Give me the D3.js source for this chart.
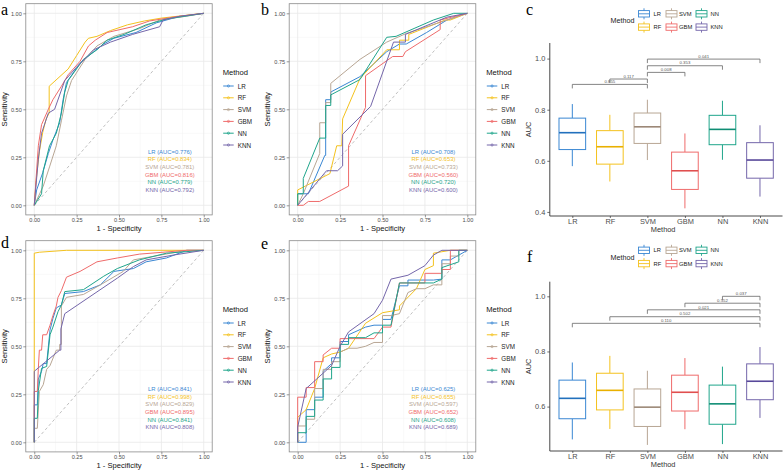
<!DOCTYPE html>
<html><head><meta charset="utf-8">
<script src="https://cdn.jsdelivr.net/npm/d3@7"></script>
<style>
body{margin:0;background:#fff}
svg{display:block}
text{font-family:"Liberation Sans",Arial,Helvetica,sans-serif}
</style>
</head><body>
<svg id="chart" width="783" height="471"></svg>
<script>
// ---------------- DATA ----------------
const methods = ["LR","RF","SVM","GBM","NN","KNN"];
const rocTicks = [0, 0.25, 0.5, 0.75, 1];

// panel a (fpr, tpr)
const aLR  = [[0,0],[0.014,0.08],[0.05,0.17],[0.083,0.27],[0.11,0.34],[0.15,0.43],[0.17,0.55],[0.19,0.64],[0.27,0.74],[0.35,0.8],[0.41,0.84],[0.47,0.87],[0.6,0.9],[0.72,0.95],[0.84,0.98],[1,1]];
const aRF  = [[0,0],[0.01,0.12],[0.03,0.28],[0.05,0.38],[0.07,0.45],[0.088,0.48],[0.088,0.62],[0.2,0.71],[0.25,0.78],[0.3,0.85],[0.32,0.87],[0.37,0.88],[0.45,0.91],[0.55,0.94],[0.65,0.96],[0.75,0.975],[0.85,0.985],[1,1]];
const aSVM = [[0,0],[0.053,0.1],[0.09,0.2],[0.13,0.31],[0.16,0.44],[0.19,0.57],[0.22,0.65],[0.3,0.76],[0.37,0.83],[0.47,0.88],[0.62,0.92],[0.74,0.965],[0.9,0.985],[1,1]];
const aGBM = [[0,0],[0.01,0.13],[0.024,0.31],[0.043,0.42],[0.083,0.5],[0.11,0.55],[0.16,0.62],[0.2,0.68],[0.27,0.75],[0.32,0.83],[0.36,0.86],[0.43,0.9],[0.58,0.93],[0.68,0.96],[0.82,0.98],[1,1]];
const aNN  = [[0,0],[0.043,0.06],[0.053,0.18],[0.09,0.31],[0.13,0.375],[0.16,0.48],[0.18,0.59],[0.2,0.65],[0.29,0.76],[0.37,0.81],[0.43,0.86],[0.53,0.89],[0.66,0.94],[0.78,0.97],[1,1]];
const aKNN = [[0,0],[0.024,0.24],[0.043,0.375],[0.083,0.48],[0.12,0.5],[0.18,0.65],[0.25,0.72],[0.35,0.81],[0.45,0.85],[0.58,0.89],[0.74,0.93],[0.76,0.965],[0.86,0.985],[1,1]];
const aucA = ["0.776","0.834","0.781","0.816","0.779","0.792"];

// panel b
const bLR  = [[0,0],[0,0.06],[0.063,0.06],[0.16,0.26],[0.165,0.26],[0.165,0.55],[0.195,0.55],[0.195,0.59],[0.367,0.67],[0.525,0.8],[0.6,0.84],[0.64,0.84],[0.76,0.9],[0.88,0.965],[1,1]];
const bRF  = [[0,0],[0,0.08],[0.19,0.165],[0.23,0.31],[0.26,0.31],[0.265,0.45],[0.367,0.66],[0.525,0.81],[0.6,0.81],[0.6,0.86],[0.655,0.86],[0.655,0.89],[0.87,0.965],[0.9,0.965],[1,1]];
const bSVM = [[0,0],[0.033,0.06],[0.13,0.27],[0.13,0.43],[0.165,0.43],[0.165,0.535],[0.195,0.535],[0.195,0.635],[0.367,0.76],[0.525,0.85],[0.64,0.895],[1,1]];
const bGBM = [[0,0],[0.033,0],[0.063,0.02],[0.13,0.02],[0.3,0.1],[0.3,0.31],[0.4,0.51],[0.4,0.675],[0.56,0.775],[0.62,0.775],[0.635,0.8],[0.84,0.915],[0.84,0.965],[1,1]];
const bNN  = [[0,0],[0,0.06],[0.033,0.06],[0.033,0.14],[0.13,0.35],[0.165,0.35],[0.165,0.52],[0.195,0.52],[0.195,0.575],[0.367,0.655],[0.525,0.875],[0.58,0.88],[0.8,0.965],[0.92,1],[1,1]];
const bKNN = [[0,0],[0.17,0.18],[0.235,0.18],[0.265,0.205],[0.265,0.37],[0.43,0.515],[0.565,0.85],[0.635,0.85],[0.635,0.89],[0.88,0.98],[1,1]];
const aucB = ["0.708","0.653","0.733","0.560","0.720","0.600"];

// panel d
const dLR  = [[0,0],[0,0.195],[0.018,0.195],[0.024,0.33],[0.043,0.37],[0.053,0.41],[0.073,0.41],[0.093,0.585],[0.11,0.645],[0.13,0.7],[0.16,0.715],[0.18,0.775],[0.29,0.785],[0.39,0.82],[0.47,0.89],[0.585,0.905],[0.66,0.94],[0.78,0.96],[0.9,1],[1,1]];
const dRF  = [[0,0],[0,0.985],[0.03,0.99],[0.19,1],[1,1]];
const dSVM = [[0,0],[0,0.073],[0.018,0.073],[0.03,0.265],[0.053,0.3],[0.073,0.38],[0.093,0.4],[0.13,0.48],[0.15,0.48],[0.15,0.51],[0.16,0.51],[0.16,0.71],[0.19,0.755],[0.29,0.77],[0.39,0.82],[0.525,0.89],[0.585,0.95],[0.9,1],[1,1]];
const dGBM = [[0,0],[0,0.265],[0.018,0.265],[0.024,0.385],[0.03,0.48],[0.043,0.48],[0.05,0.56],[0.073,0.56],[0.093,0.61],[0.11,0.66],[0.13,0.71],[0.14,0.755],[0.16,0.79],[0.19,0.86],[0.27,0.89],[0.37,0.94],[0.49,0.96],[0.62,0.98],[0.9,1],[1,1]];
const dNN  = [[0,0],[0,0.125],[0.018,0.125],[0.024,0.27],[0.043,0.385],[0.073,0.395],[0.093,0.56],[0.11,0.6],[0.14,0.68],[0.16,0.715],[0.18,0.785],[0.29,0.795],[0.41,0.865],[0.49,0.905],[0.62,0.95],[0.78,0.985],[1,1]];
const dKNN = [[0,0],[0,0.37],[0.15,0.48],[0.157,0.48],[0.157,0.59],[0.18,0.67],[0.49,0.855],[0.585,0.915],[0.66,0.95],[0.82,0.975],[1,1]];
const aucD = ["0.841","0.998","0.829","0.895","0.841","0.808"];

// panel e
const eLR  = [[0,0],[0.05,0],[0.05,0.17],[0.1,0.17],[0.1,0.235],[0.15,0.235],[0.15,0.37],[0.2,0.41],[0.2,0.44],[0.25,0.44],[0.25,0.525],[0.3,0.525],[0.3,0.56],[0.4,0.6],[0.45,0.61],[0.5,0.61],[0.5,0.64],[0.55,0.64],[0.6,0.815],[0.65,0.815],[0.65,0.845],[0.8,0.845],[0.85,0.85],[0.85,0.95],[0.9,0.95],[1,1]];
const eRF  = [[0,0],[0,0.13],[0.05,0.17],[0.1,0.28],[0.15,0.44],[0.2,0.46],[0.25,0.47],[0.3,0.49],[0.4,0.62],[0.5,0.675],[0.6,0.69],[0.6,0.71],[0.7,0.8],[0.75,0.9],[0.8,0.92],[0.8,0.985],[0.9,1],[1,1]];
const eSVM = [[0,0],[0,0.085],[0.05,0.085],[0.05,0.12],[0.1,0.12],[0.1,0.28],[0.15,0.28],[0.15,0.38],[0.2,0.38],[0.2,0.42],[0.25,0.42],[0.25,0.47],[0.3,0.49],[0.35,0.49],[0.4,0.5],[0.45,0.52],[0.5,0.52],[0.5,0.66],[0.55,0.66],[0.6,0.67],[0.65,0.78],[0.7,0.8],[0.75,0.8],[0.8,0.82],[0.85,0.82],[0.85,0.93],[0.9,0.93],[0.9,0.97],[0.95,0.97],[0.95,1],[1,1]];
const eGBM = [[0,0],[0,0.235],[0.05,0.235],[0.05,0.285],[0.1,0.285],[0.1,0.42],[0.15,0.42],[0.15,0.455],[0.2,0.49],[0.25,0.49],[0.25,0.54],[0.3,0.54],[0.45,0.54],[0.5,0.6],[0.55,0.6],[0.6,0.83],[0.75,0.83],[0.75,0.88],[0.85,0.88],[0.85,0.9],[0.9,0.9],[0.9,1],[1,1]];
const eNN  = [[0,0],[0,0.05],[0.05,0.05],[0.05,0.135],[0.1,0.135],[0.1,0.22],[0.15,0.22],[0.15,0.33],[0.2,0.33],[0.2,0.39],[0.25,0.39],[0.25,0.51],[0.3,0.51],[0.3,0.545],[0.4,0.545],[0.45,0.57],[0.5,0.57],[0.5,0.61],[0.55,0.61],[0.6,0.83],[0.8,0.83],[0.85,0.85],[0.85,0.91],[0.95,0.94],[0.95,1],[1,1]];
const eKNN = [[0,0],[0,0.08],[0.05,0.28],[0.2,0.4],[0.25,0.5],[0.3,0.575],[0.45,0.67],[0.5,0.74],[0.55,0.85],[0.65,0.87],[0.75,0.92],[0.8,0.975],[0.85,1],[1,1]];
const aucE = ["0.625","0.655","0.597","0.652","0.608","0.689"];

// panel c boxplot stats
const cMin = [0.579, 0.519, 0.603, 0.414, 0.604, 0.460];
const cQ1  = [0.644, 0.587, 0.668, 0.488, 0.663, 0.532];
const cMed = [0.710, 0.655, 0.733, 0.561, 0.723, 0.603];
const cQ3  = [0.767, 0.718, 0.787, 0.634, 0.778, 0.671];
const cMax = [0.822, 0.780, 0.839, 0.707, 0.835, 0.739];
const cPairs = [["LR","SVM"],["RF","SVM"],["SVM","GBM"],["SVM","NN"],["SVM","KNN"]];
const cPval  = ["0.855","0.117","0.008","0.353","0.041"];
const cBrY   = [0.899, 0.920, 0.946, 0.972, 0.998];
const cTicks = [0.4, 0.6, 0.8, 1.0];

// panel f boxplot stats
const fMin = [0.481, 0.519, 0.461, 0.518, 0.464, 0.559];
const fQ1  = [0.556, 0.588, 0.528, 0.584, 0.536, 0.625];
const fMed = [0.630, 0.659, 0.598, 0.652, 0.610, 0.692];
const fQ3  = [0.696, 0.721, 0.664, 0.714, 0.678, 0.755];
const fMax = [0.760, 0.784, 0.730, 0.776, 0.745, 0.816];
const fPairs = [["LR","KNN"],["RF","KNN"],["SVM","KNN"],["GBM","KNN"],["NN","KNN"]];
const fPval  = ["0.110","0.502","0.021","0.552","0.037"];
const fBrY   = [0.902, 0.926, 0.951, 0.975, 1.0];
const fTicks = [0.6, 0.8, 1.0];

// ---------------- STYLE ----------------
const colors = ["#3a87d3","#f4c21e","#b8a694","#ef6b6b","#1fa58b","#7466aa"];
const medColors = ["#2270bd","#e9b000","#9c8877","#e04f4f","#0f8d74","#58489a"];
const tickCol = "#4d4d4d";

const svg = d3.select("#chart");

function letter(t, x, y) {
  svg.append("text").attr("x", x).attr("y", y)
    .style("font-family", "'Liberation Serif','Times New Roman',serif").style("font-size", "16px")
    .attr("fill", "#000").text(t);
}

function rocPanel(o) {
  const x = d3.scaleLinear().domain([-0.05, 1.05]).range([o.l, o.r]);
  const y = d3.scaleLinear().domain([-0.05, 1.05]).range([o.b, o.t]);
  const g = svg.append("g");
  const minor = [0.125, 0.375, 0.625, 0.875];
  g.selectAll(".mnx").data(minor).join("line")
    .attr("x1", d => x(d)).attr("x2", d => x(d)).attr("y1", o.t).attr("y2", o.b)
    .attr("stroke", "#f3f3f3").attr("stroke-width", 0.5);
  g.selectAll(".mny").data(minor).join("line")
    .attr("y1", d => y(d)).attr("y2", d => y(d)).attr("x1", o.l).attr("x2", o.r)
    .attr("stroke", "#f3f3f3").attr("stroke-width", 0.5);
  g.selectAll(".mjx").data(rocTicks).join("line")
    .attr("x1", d => x(d)).attr("x2", d => x(d)).attr("y1", o.t).attr("y2", o.b)
    .attr("stroke", "#e8e8e8").attr("stroke-width", 0.8);
  g.selectAll(".mjy").data(rocTicks).join("line")
    .attr("y1", d => y(d)).attr("y2", d => y(d)).attr("x1", o.l).attr("x2", o.r)
    .attr("stroke", "#e8e8e8").attr("stroke-width", 0.8);
  g.append("line").attr("x1", x(0)).attr("y1", y(0)).attr("x2", x(1)).attr("y2", y(1))
    .attr("stroke", "#b0b0b0").attr("stroke-width", 0.8).attr("stroke-dasharray", "3,2.5");
  const line = d3.line().x(d => x(d[0])).y(d => y(d[1]));
  o.series.forEach((s, i) => {
    g.append("path").attr("d", line(s)).attr("fill", "none")
      .attr("stroke", colors[i]).attr("stroke-width", 1);
  });
  g.append("rect").attr("x", o.l).attr("y", o.t).attr("width", o.r - o.l).attr("height", o.b - o.t)
    .attr("fill", "none").attr("stroke", "#8a8a8a").attr("stroke-width", 0.8);
  const fmt = d3.format(".2f");
  const ax = g.append("g").attr("transform", `translate(0,${o.b})`)
    .call(d3.axisBottom(x).tickValues(rocTicks).tickFormat(fmt).tickSize(2.5).tickPadding(1));
  const ay = g.append("g").attr("transform", `translate(${o.l},0)`)
    .call(d3.axisLeft(y).tickValues(rocTicks).tickFormat(fmt).tickSize(2.5).tickPadding(1.5));
  [ax, ay].forEach(a => {
    a.select(".domain").remove();
    a.selectAll(".tick line").attr("stroke", "#555").attr("stroke-width", 0.6);
    a.selectAll(".tick text").attr("fill", tickCol).style("font-size", "5.6px")
      .style("font-family", "'Liberation Sans',Arial,sans-serif");
  });
  g.append("text").attr("x", (o.l + o.r) / 2).attr("y", o.b + 16.3).attr("text-anchor", "middle")
    .style("font-size", "7.6px").attr("fill", "#111").text("1 - Specificity");
  g.append("text").attr("transform", `translate(${o.l - 19},${(o.t + o.b) / 2}) rotate(-90)`)
    .attr("text-anchor", "middle").style("font-size", "7.6px").attr("fill", "#111").text("Sensitivity");
  methods.forEach((m, i) => {
    g.append("text").attr("x", x(0.8)).attr("y", o.aucY + i * 7.65).attr("text-anchor", "middle")
      .attr("dominant-baseline", "central").style("font-size", "5.9px").attr("fill", colors[i])
      .text(`${m} (AUC=${o.auc[i]})`);
  });
  letter(o.letter, o.letterX, o.letterY);
  const lx = o.r + 10.5;
  g.append("text").attr("x", lx).attr("y", o.legY).attr("dominant-baseline", "central")
    .style("font-size", "7.6px").attr("fill", "#111").text("Method");
  methods.forEach((m, i) => {
    const yy = o.legY + 14 + i * 11.8;
    g.append("line").attr("x1", lx + 0.5).attr("x2", lx + 11).attr("y1", yy).attr("y2", yy)
      .attr("stroke", colors[i]).attr("stroke-width", 1);
    g.append("circle").attr("cx", lx + 5.75).attr("cy", yy).attr("r", 1.1)
      .attr("fill", "none").attr("stroke", colors[i]).attr("stroke-width", 0.7);
    g.append("text").attr("x", lx + 15).attr("y", yy).attr("dominant-baseline", "central")
      .style("font-size", "6.3px").attr("fill", "#222").text(m);
  });
}

function boxPanel(o) {
  const x = d3.scalePoint().domain(methods).range([o.l, o.r]).padding(0.6);
  const y = d3.scaleLinear().domain(o.dom).range([o.b, o.t]);
  const g = svg.append("g");
  const bw = x.step() * 0.71;
  methods.forEach((m, i) => {
    const cx = x(m);
    g.append("line").attr("x1", cx).attr("x2", cx).attr("y1", y(o.max[i])).attr("y2", y(o.q3[i]))
      .attr("stroke", colors[i]).attr("stroke-width", 1);
    g.append("line").attr("x1", cx).attr("x2", cx).attr("y1", y(o.q1[i])).attr("y2", y(o.min[i]))
      .attr("stroke", colors[i]).attr("stroke-width", 1);
    g.append("rect").attr("x", cx - bw / 2).attr("y", y(o.q3[i])).attr("width", bw)
      .attr("height", y(o.q1[i]) - y(o.q3[i])).attr("fill", "#fff")
      .attr("stroke", colors[i]).attr("stroke-width", 1);
    g.append("line").attr("x1", cx - bw / 2).attr("x2", cx + bw / 2).attr("y1", y(o.med[i])).attr("y2", y(o.med[i]))
      .attr("stroke", medColors[i]).attr("stroke-width", 1.6);
  });
  o.pairs.forEach((p, i) => {
    const x1 = x(p[0]), x2 = x(p[1]), yy = y(o.brY[i]);
    g.append("path").attr("d", `M${x1},${yy + 4}V${yy}H${x2}V${yy + 4}`)
      .attr("fill", "none").attr("stroke", "#666").attr("stroke-width", 0.8);
    g.append("text").attr("x", (x1 + x2) / 2).attr("y", yy - 1.3).attr("text-anchor", "middle")
      .style("font-size", "4.3px").attr("fill", "#555").text(o.pval[i]);
  });
  const ax = g.append("g").attr("transform", `translate(0,${o.b})`)
    .call(d3.axisBottom(x).tickSize(2).tickSizeOuter(0).tickPadding(0.3));
  const ay = g.append("g").attr("transform", `translate(${o.l},0)`)
    .call(d3.axisLeft(y).tickValues(o.ticks).tickFormat(d3.format(".1f")).tickSize(2.5).tickSizeOuter(0).tickPadding(2));
  [ax, ay].forEach(a => {
    a.select(".domain").attr("stroke", "#333").attr("stroke-width", 0.9);
    a.selectAll(".tick line").attr("stroke", "#333").attr("stroke-width", 0.7);
    a.selectAll(".tick text").attr("fill", tickCol).style("font-size", "7.4px")
      .style("font-family", "'Liberation Sans',Arial,sans-serif");
  });
  ax.select(".domain").attr("d", `M${o.l},0H${o.r}`);
  ay.select(".domain").attr("d", `M0,${o.b}V${o.t}`);
  g.append("text").attr("x", (o.l + o.r) / 2 - 3).attr("y", o.b + 15.8).attr("text-anchor", "middle")
    .style("font-size", "7.4px").attr("fill", "#333").text("Method");
  g.append("text").attr("transform", `translate(${o.l - 19},${(o.t + o.b) / 2}) rotate(-90)`)
    .attr("text-anchor", "middle").style("font-size", "7.4px").attr("fill", "#333").text("AUC");
  letter(o.letter, o.letterX, o.letterY);
  g.append("text").attr("x", 610.5).attr("y", o.legY).attr("dominant-baseline", "central")
    .style("font-size", "7.2px").attr("fill", "#222").text("Method");
  const keyX = [638.5, 666, 696], labX = [653.5, 679, 710.5];
  methods.forEach((m, i) => {
    const col = [0, 0, 1, 1, 2, 2][i], row = i % 2;
    const cy = o.legY - 6.7 + row * 13.3;
    const kx = keyX[col];
    g.append("line").attr("x1", kx + 5.5).attr("x2", kx + 5.5).attr("y1", cy - 5.5).attr("y2", cy + 5.5)
      .attr("stroke", colors[i]).attr("stroke-width", 0.9);
    g.append("rect").attr("x", kx).attr("y", cy - 3.2).attr("width", 11).attr("height", 6.4)
      .attr("fill", "#fff").attr("stroke", colors[i]).attr("stroke-width", 0.9);
    g.append("line").attr("x1", kx).attr("x2", kx + 11).attr("y1", cy).attr("y2", cy)
      .attr("stroke", colors[i]).attr("stroke-width", 0.9);
    g.append("text").attr("x", labX[col]).attr("y", cy).attr("dominant-baseline", "central")
      .style("font-size", "5.8px").attr("fill", "#222").text(m);
  });
}

rocPanel({l: 25.8, r: 212.2, t: 3.7, b: 214.9, series: [aLR, aRF, aSVM, aGBM, aNN, aKNN],
  auc: aucA, aucY: 151.7, letter: "a", letterX: 1, letterY: 14.5, legY: 72});
rocPanel({l: 289.2, r: 475.8, t: 3.7, b: 214.9, series: [bLR, bRF, bSVM, bGBM, bNN, bKNN],
  auc: aucB, aucY: 151.7, letter: "b", letterX: 261, letterY: 14.5, legY: 72});
rocPanel({l: 25.8, r: 212.2, t: 240.7, b: 451.9, series: [dLR, dRF, dSVM, dGBM, dNN, dKNN],
  auc: aucD, aucY: 389, letter: "d", letterX: 1, letterY: 248, legY: 309});
rocPanel({l: 289.2, r: 475.8, t: 240.7, b: 451.9, series: [eLR, eRF, eSVM, eGBM, eNN, eKNN],
  auc: aucE, aucY: 389, letter: "e", letterX: 261, letterY: 249, legY: 309});

boxPanel({l: 549.8, r: 782.5, t: 43, b: 216, dom: [0.384, 1.061], ticks: cTicks,
  min: cMin, q1: cQ1, med: cMed, q3: cQ3, max: cMax, pairs: cPairs, pval: cPval, brY: cBrY,
  letter: "c", letterX: 526, letterY: 14.5, legY: 20.5});
boxPanel({l: 549.8, r: 782.5, t: 281.7, b: 451, dom: [0.439, 1.053], ticks: fTicks,
  min: fMin, q1: fQ1, med: fMed, q3: fQ3, max: fMax, pairs: fPairs, pval: fPval, brY: fBrY,
  letter: "f", letterX: 527, letterY: 262, legY: 257});
</script>
</body></html>
